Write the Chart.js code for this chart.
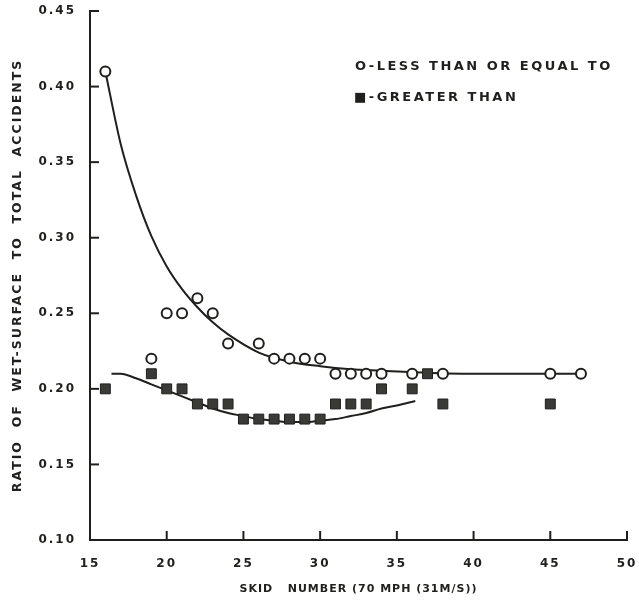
<!DOCTYPE html>
<html>
<head>
<meta charset="utf-8">
<script src="https://cdn.jsdelivr.net/npm/chart.js@4/dist/chart.umd.min.js"></script>
<style>
html,body{margin:0;padding:0;background:#ffffff;}
#wrap{width:639px;height:606px;}
</style>
</head>
<body>
<div id="wrap"><canvas id="c" width="639" height="606"></canvas></div>
<script>
// ---- data ----
const lessSkid   = [16, 19, 20, 21, 22, 23, 24, 26, 27, 28, 29, 30, 31, 32, 33, 34, 36, 38, 45, 47];
const lessRatio  = [0.41, 0.22, 0.25, 0.25, 0.26, 0.25, 0.23, 0.23, 0.22, 0.22, 0.22, 0.22, 0.21, 0.21, 0.21, 0.21, 0.21, 0.21, 0.21, 0.21];

const greaterSkid  = [16, 19, 20, 21, 22, 23, 24, 25, 26, 27, 28, 29, 30, 31, 32, 33, 34, 36, 37, 38, 45];
const greaterRatio = [0.20, 0.21, 0.20, 0.20, 0.19, 0.19, 0.19, 0.18, 0.18, 0.18, 0.18, 0.18, 0.18, 0.19, 0.19, 0.19, 0.20, 0.20, 0.21, 0.19, 0.19];

// fitted curves as drawn on the reference
const lessCurveSkid  = [16, 17, 18, 19, 20, 21, 22, 23, 24, 26, 28, 30, 32, 34, 36, 40, 47];
const lessCurveRatio = [0.410, 0.362, 0.328, 0.301, 0.281, 0.266, 0.254, 0.244, 0.236, 0.224, 0.218, 0.215, 0.213, 0.212, 0.211, 0.210, 0.210];

const greaterCurveSkid  = [16.4, 17, 18, 19, 20, 21, 22, 23, 24, 25, 26, 27, 28, 29, 30, 31, 32, 33, 34, 35, 36.2];
const greaterCurveRatio = [0.210, 0.210, 0.207, 0.203, 0.199, 0.195, 0.191, 0.187, 0.184, 0.182, 0.180, 0.179, 0.178, 0.178, 0.179, 0.180, 0.182, 0.184, 0.187, 0.189, 0.192];

const xTickValues = [15, 20, 25, 30, 35, 40, 45, 50];
const yTickValues = [0.10, 0.15, 0.20, 0.25, 0.30, 0.35, 0.40, 0.45];
const yTickLabels = ['0.10', '0.15', '0.20', '0.25', '0.30', '0.35', '0.40', '0.45'];

const legendLabels = ['O-LESS THAN OR EQUAL TO', '\u25A0-GREATER THAN'];
const xTitle = 'SKID   NUMBER (70 MPH (31M/S))';
const yTitle = 'RATIO  OF  WET-SURFACE  TO  TOTAL  ACCIDENTS';

// ---- styling ----
const INK = '#1f1f1d';
const FONT = '"DejaVu Sans", "Liberation Sans", sans-serif';

const pts = (xs, ys) => xs.map((v, i) => ({x: v, y: ys[i]}));

const spacingPlugin = {
  id: 'spacing',
  beforeDraw(chart) {
    chart.ctx.letterSpacing = '2px';
  },
  afterLayout(chart) {
    const sx = chart.scales.x;
    if (sx && !sx._wrappedTitle) {
      const orig = sx.drawTitle.bind(sx);
      sx.drawTitle = function () {
        const ctx = this.ctx;
        const prev = ctx.letterSpacing;
        ctx.letterSpacing = '1px';
        orig();
        ctx.letterSpacing = prev;
      };
      sx._wrappedTitle = true;
    }
  }
};

const tickMarks = {
  id: 'tickMarks',
  beforeDatasetsDraw(chart) {
    const {ctx, scales: {x, y}} = chart;
    ctx.save();
    ctx.strokeStyle = INK;
    ctx.lineWidth = 2;
    const ax = x.left;
    const ay = y.bottom;
    yTickValues.slice(1).forEach(v => {
      const py = y.getPixelForValue(v);
      ctx.beginPath(); ctx.moveTo(ax, py); ctx.lineTo(ax + 9, py); ctx.stroke();
    });
    xTickValues.slice(1).forEach(v => {
      const px = x.getPixelForValue(v);
      ctx.beginPath(); ctx.moveTo(px, ay); ctx.lineTo(px, ay - 9); ctx.stroke();
    });
    ctx.restore();
  }
};

const legendText = {
  id: 'legendText',
  afterDraw(chart) {
    const ctx = chart.ctx;
    ctx.save();
    ctx.letterSpacing = '2.5px';
    ctx.fillStyle = INK;
    ctx.font = 'bold 13px ' + FONT;
    ctx.textAlign = 'left';
    ctx.textBaseline = 'middle';
    ctx.fillText(legendLabels[0], 355, 67);
    ctx.fillText(legendLabels[1], 354, 98);
    ctx.restore();
  }
};

new Chart(document.getElementById('c'), {
  type: 'scatter',
  data: {
    datasets: [
      {
        label: 'LESS THAN OR EQUAL TO',
        data: pts(lessSkid, lessRatio),
        pointStyle: 'circle',
        pointRadius: 5,
        pointBorderWidth: 2,
        pointBorderColor: INK,
        pointBackgroundColor: '#ffffff',
        showLine: false,
        order: 1
      },
      {
        label: 'GREATER THAN',
        data: pts(greaterSkid, greaterRatio),
        pointStyle: 'rect',
        pointRadius: 7,
        pointBorderWidth: 1,
        pointBorderColor: INK,
        pointBackgroundColor: '#3a3a36',
        showLine: false,
        order: 0
      },
      {
        label: 'curve less',
        data: pts(lessCurveSkid, lessCurveRatio),
        showLine: true,
        borderColor: INK,
        borderWidth: 2,
        pointRadius: 0,
        cubicInterpolationMode: 'monotone',
        fill: false,
        order: 3
      },
      {
        label: 'curve greater',
        data: pts(greaterCurveSkid, greaterCurveRatio),
        showLine: true,
        borderColor: INK,
        borderWidth: 2,
        pointRadius: 0,
        cubicInterpolationMode: 'monotone',
        fill: false,
        order: 2
      }
    ]
  },
  options: {
    responsive: false,
    animation: false,
    events: [],
    layout: {padding: {top: 11, right: 12, left: 0, bottom: 0}},
    plugins: {
      legend: {display: false},
      tooltip: {enabled: false},
      title: {display: false}
    },
    scales: {
      x: {
        type: 'linear',
        min: 15, max: 50,
        afterFit: s => { s.height = 66; s.paddingLeft = 0; s.paddingRight = 0; },
        afterBuildTicks: s => { s.ticks = xTickValues.map(v => ({value: v})); },
        grid: {display: false},
        border: {display: true, color: INK, width: 2},
        ticks: {
          color: INK,
          padding: 9,
          font: {family: FONT, size: 12, weight: 'bold'},
          callback: v => String(v),
          maxRotation: 0
        },
        title: {
          display: true,
          text: xTitle,
          color: INK,
          font: {family: FONT, size: 11, weight: 'bold'},
          padding: {top: 0, bottom: 10}
        }
      },
      y: {
        type: 'linear',
        min: 0.10, max: 0.45,
        afterFit: s => { s.width = 90; s.paddingTop = 0; s.paddingBottom = 0; },
        afterBuildTicks: s => { s.ticks = yTickValues.map(v => ({value: v})); },
        grid: {display: false},
        border: {display: true, color: INK, width: 2},
        ticks: {
          color: INK,
          padding: 6,
          font: {family: FONT, size: 12, weight: 'bold'},
          callback: (v) => yTickLabels[yTickValues.findIndex(t => Math.abs(t - v) < 1e-9)]
        },
        title: {
          display: true,
          text: yTitle,
          color: INK,
          font: {family: FONT, size: 12.5, weight: 'bold'},
          padding: {top: 10, bottom: 0}
        }
      }
    }
  },
  plugins: [spacingPlugin, tickMarks, legendText]
});
</script>
</body>
</html>
